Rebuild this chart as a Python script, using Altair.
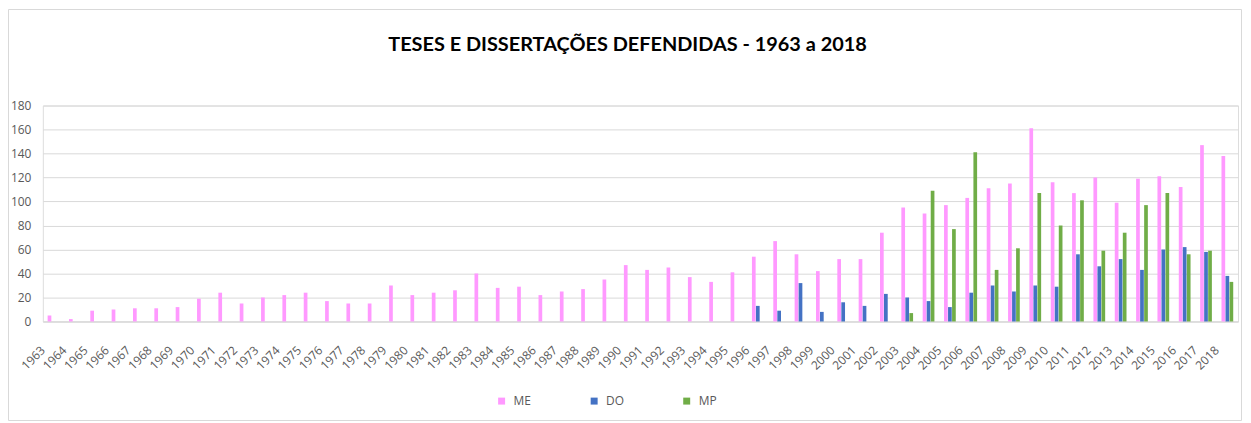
import altair as alt
import pandas as pd

anos = [str(y) for y in range(1963, 2019)]

me = [5, 2, 9, 10, 11, 11, 12, 19, 24, 15,
      20, 22, 24, 17, 15, 15, 30, 22, 24, 26,
      40, 28, 29, 22, 25, 27, 35, 47, 43, 45,
      37, 33, 41, 54, 67, 56, 42, 52, 52, 74,
      95, 90, 97, 103, 111, 115, 161, 116, 107, 120,
      99, 119, 121, 112, 147, 138]

do_anos = [str(y) for y in range(1996, 2019)]
do = [13, 9, 32, 8, 16, 13, 23, 20, 17, 12, 24, 30, 25, 30, 29, 56, 46, 52, 43, 60, 62, 58, 38]

mp_anos = [str(y) for y in range(2003, 2019)]
mp = [7, 109, 77, 141, 43, 61, 107, 80, 101, 59, 74, 97, 107, 56, 59, 33]

series = ["ME", "DO", "MP"]
cores = ["#FF99FF", "#4472C4", "#70AD47"]

titulo = "TESES E DISSERTAÇÕES DEFENDIDAS - 1963 a 2018"

rows = []
for a, v in zip(anos, me):
    rows.append({"ano": a, "serie": "ME", "valor": v})
for a, v in zip(do_anos, do):
    rows.append({"ano": a, "serie": "DO", "valor": v})
for a, v in zip(mp_anos, mp):
    rows.append({"ano": a, "serie": "MP", "valor": v})
df = pd.DataFrame(rows)

W, H = 1201, 217
PL, PT, PR, PB = 35, 97, 5, 101

bars = alt.Chart(df).mark_bar().encode(
    x=alt.X("ano:N", sort=anos, title=None,
            scale=alt.Scale(paddingInner=0.45, paddingOuter=0.225),
            axis=alt.Axis(labelAngle=315, labelAlign="right", labelBaseline="top",
                          labelOffset=-14, labelPadding=23, ticks=False,
                          domainColor="#d9d9d9", labelColor="#595959",
                          labelFont="Open Sans", labelFontSize=12)),
    xOffset=alt.XOffset("serie:N", sort=series, scale=alt.Scale(paddingInner=0.08)),
    y=alt.Y("valor:Q", title=None,
            scale=alt.Scale(domain=[0, 180], nice=False),
            axis=alt.Axis(values=list(range(0, 181, 20)), domain=False, ticks=False,
                          gridColor="#d9d9d9", labelColor="#595959",
                          labelFont="Open Sans", labelFontSize=12, labelPadding=12)),
    color=alt.Color("serie:N", sort=series,
                    scale=alt.Scale(domain=series, range=cores),
                    legend=alt.Legend(title=None, orient="none", direction="horizontal",
                                      legendX=455, legendY=291,
                                      symbolType="square", symbolSize=49,
                                      symbolStrokeWidth=0,
                                      labelFont="Open Sans", labelFontSize=12,
                                      labelColor="#595959", labelOffset=6,
                                      columnPadding=56, gridAlign="all")),
)

borda = alt.Chart(pd.DataFrame({"b": [0]})).mark_rect(
    fillOpacity=0, stroke="#d9d9d9", strokeWidth=1
).encode(
    x=alt.value(-PL + 0.5), x2=alt.value(W + PR - 1.5),
    y=alt.value(-PT + 0.5), y2=alt.value(H + PB - 1.5),
)

cabecalho = alt.Chart(pd.DataFrame({"t": [titulo]})).mark_text(
    font="Lato", fontSize=20, fontWeight="bold", color="#000000",
    align="center", baseline="alphabetic"
).encode(
    text="t:N", x=alt.value(587.5), y=alt.value(-55),
)

chart = alt.layer(borda, bars, cabecalho).properties(
    width=W, height=H,
    autosize=alt.AutoSizeParams(type="none"),
    padding={"left": PL, "top": PT, "right": PR, "bottom": PB},
).configure_view(stroke=None).configure(background="white")

chart.save("out.html", embed_options={"renderer": "svg", "actions": False})
